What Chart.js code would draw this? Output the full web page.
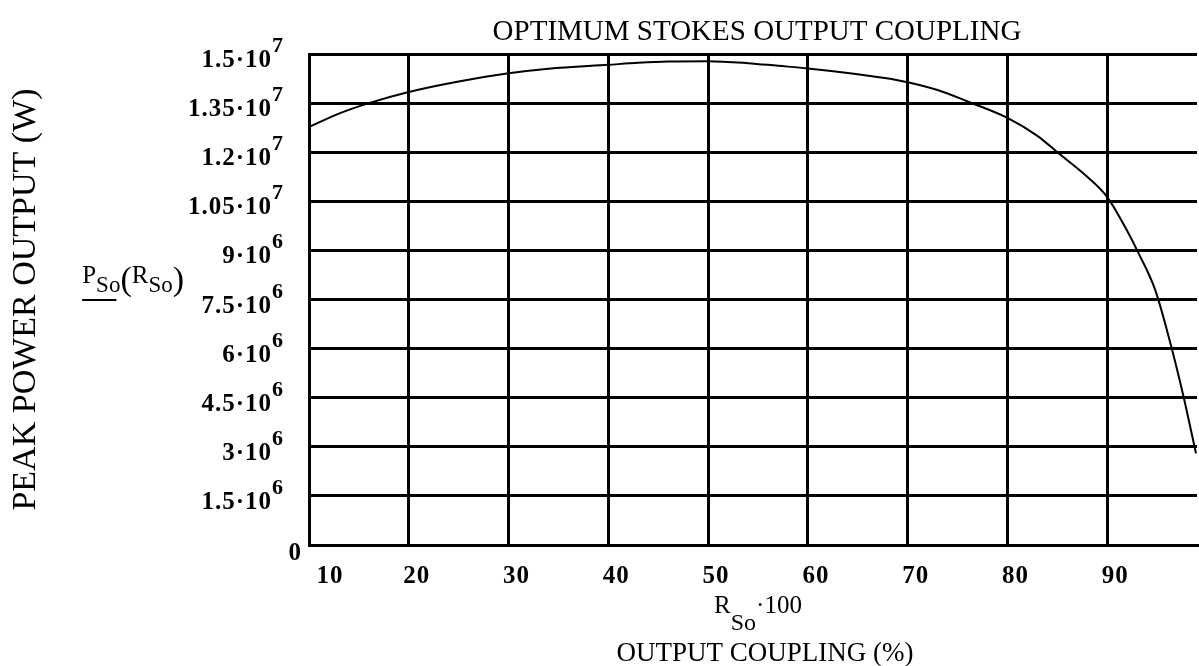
<!DOCTYPE html>
<html>
<head>
<meta charset="utf-8">
<script src="https://cdn.jsdelivr.net/npm/chart.js@4/dist/chart.umd.min.js"></script>
<style>
  html, body { margin: 0; padding: 0; background: #fff; }
  #wrap { width: 1199px; height: 666px; }
</style>
</head>
<body>
<div id="wrap"><canvas id="chart" width="1199" height="666"></canvas></div>
<script>
// output coupling R_So*100 (%)
const couplingPct = [10, 13, 16, 20, 25, 30, 34, 40, 43, 46, 50, 54, 57, 60, 64, 69, 73, 76, 80, 83, 85, 88, 90, 92, 93, 94.8, 96.3, 97.6, 98.9];
// peak stokes power P_So (W)
const peakPower = [1.277e7, 1.318e7, 1.35e7, 1.384e7, 1.416e7, 1.441e7, 1.455e7, 1.467e7, 1.473e7, 1.477e7, 1.478e7, 1.472e7, 1.464e7, 1.456e7, 1.442e7, 1.42e7, 1.39e7, 1.355e7, 1.305e7, 1.25e7, 1.2e7, 1.125e7, 1.063e7, 9.6e6, 9.0e6, 7.8e6, 6.2e6, 4.6e6, 2.8e6];

const xTicks = [10, 20, 30, 40, 50, 60, 70, 80, 90];
const xTickLabels = ['10', '20', '30', '40', '50', '60', '70', '80', '90'];
const yTickValues = [0, 1.5e6, 3e6, 4.5e6, 6e6, 7.5e6, 9e6, 1.05e7, 1.2e7, 1.35e7, 1.5e7];
const yTickLabels = ['0', '1.5·10^6', '3·10^6', '4.5·10^6', '6·10^6', '7.5·10^6', '9·10^6', '1.05·10^7', '1.2·10^7', '1.35·10^7', '1.5·10^7'];

const titleText = 'OPTIMUM STOKES OUTPUT COUPLING';
const yTitleText = 'PEAK POWER OUTPUT (W)';
const xTitleText = 'OUTPUT COUPLING (%)';

const SERIF = '"Liberation Serif", "DejaVu Serif", serif';

// draws a run of [text, size, dy] pieces starting at x, returns end x
function drawRun(ctx, parts, x, y, weight) {
  parts.forEach(p => {
    ctx.font = (weight || '') + ' ' + p[1] + 'px ' + SERIF;
    ctx.fillText(p[0], x, y + p[2]);
    x += ctx.measureText(p[0]).width;
  });
  return x;
}
function runWidth(ctx, parts, weight) {
  let w = 0;
  parts.forEach(p => {
    ctx.font = (weight || '') + ' ' + p[1] + 'px ' + SERIF;
    w += ctx.measureText(p[0]).width;
  });
  return w;
}

// Mathcad style labels drawn on top of the chart
const mathcadText = {
  id: 'mathcadText',
  afterDraw: chart => {
    const ctx = chart.ctx;
    const area = chart.chartArea;
    const xScale = chart.scales.x;
    const yScale = chart.scales.y;
    const midX = (area.left + area.right) / 2;
    ctx.save();
    ctx.fillStyle = '#000';
    ctx.strokeStyle = '#000';
    ctx.textBaseline = 'alphabetic';

    // title
    ctx.textAlign = 'center';
    ctx.font = '29px ' + SERIF;
    ctx.fillText(titleText, midX + 4, 40);

    // y tick labels with exponents
    ctx.textAlign = 'left';
    ctx.letterSpacing = '1px';
    yTickValues.forEach((v, i) => {
      const y = yScale.getPixelForValue(v);
      const bits = yTickLabels[i].split('^');
      if (bits.length === 1) {
        const parts = [[bits[0], 25, 0]];
        drawRun(ctx, parts, 302 - runWidth(ctx, parts, 'bold'), y + 15, 'bold');
      } else {
        const parts = [[bits[0], 25, 0], [bits[1], 22, -15]];
        drawRun(ctx, parts, 284 - runWidth(ctx, parts, 'bold'), y + 13, 'bold');
      }
    });

    // x tick labels, sitting a little right of their grid lines
    ctx.textAlign = 'center';
    ctx.font = 'bold 25px ' + SERIF;
    xTicks.forEach((v, i) => {
      const px = Math.max(xScale.getPixelForValue(v) + 8, area.left + 21);
      ctx.fillText(xTickLabels[i], px, 583);
    });
    ctx.letterSpacing = '0px';

    // y axis title
    ctx.save();
    ctx.translate(35, (area.top + area.bottom) / 2);
    ctx.rotate(-Math.PI / 2);
    ctx.textAlign = 'center';
    ctx.font = '34px ' + SERIF;
    ctx.fillText(yTitleText, 0, 0);
    ctx.restore();

    // function label P_So(R_So)
    ctx.textAlign = 'left';
    const fn = [['P', 25, 0], ['So', 23, 9], ['(', 34, 7], ['R', 25, 0], ['So', 23, 9], [')', 34, 7]];
    const fx = 184 - runWidth(ctx, fn);
    drawRun(ctx, fn, fx, 283);
    const uw = runWidth(ctx, fn.slice(0, 2));
    ctx.lineWidth = 2;
    ctx.beginPath();
    ctx.moveTo(fx, 300);
    ctx.lineTo(fx + uw - 4, 300);
    ctx.stroke();

    // x axis titles
    const xl = [['R', 25, 0], ['So', 24, 17], ['·100', 25, 0]];
    drawRun(ctx, xl, midX + 5 - runWidth(ctx, xl) / 2, 613);
    ctx.textAlign = 'center';
    ctx.font = '27px ' + SERIF;
    ctx.fillText(xTitleText, midX + 12, 661);
    ctx.restore();
  }
};

const ctx = document.getElementById('chart').getContext('2d');
new Chart(ctx, {
  type: 'line',
  data: {
    datasets: [{
      data: couplingPct.map((x, i) => ({ x: x, y: peakPower[i] })),
      borderColor: '#000',
      borderWidth: 2,
      pointRadius: 0,
      fill: false,
      cubicInterpolationMode: 'monotone'
    }]
  },
  options: {
    responsive: false,
    animation: false,
    devicePixelRatio: 1,
    layout: { padding: { top: 54, right: 2, left: 0, bottom: 0 } },
    plugins: { legend: { display: false }, tooltip: { enabled: false }, title: { display: false } },
    scales: {
      x: {
        type: 'linear',
        min: 10,
        max: 99,
        afterBuildTicks: scale => { scale.ticks = xTicks.map(v => ({ value: v })); },
        afterFit: scale => { scale.height = 121; },
        grid: { color: '#000', lineWidth: 3, drawTicks: false },
        border: { color: '#000', width: 3 },
        ticks: { display: false }
      },
      y: {
        min: 0,
        max: 1.5e7,
        afterBuildTicks: scale => { scale.ticks = yTickValues.map(v => ({ value: v })); },
        afterFit: scale => { scale.width = 309; },
        grid: { color: '#000', lineWidth: 3, drawTicks: false },
        border: { color: '#000', width: 3 },
        ticks: { display: false }
      }
    }
  },
  plugins: [mathcadText]
});
</script>
</body>
</html>
